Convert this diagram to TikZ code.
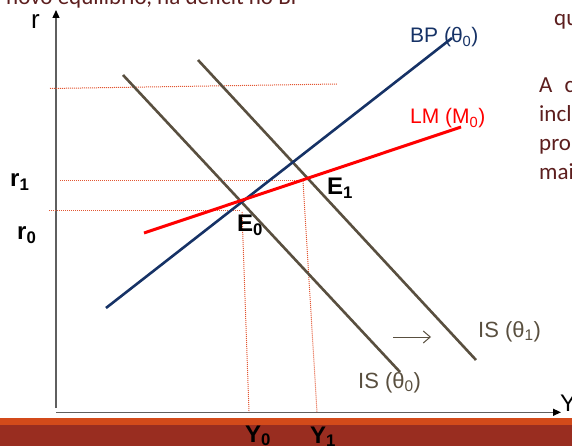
\documentclass[tikz,border=0pt]{standalone}
\usepackage{fontspec}
\setmainfont{Liberation Sans}
\newfontfamily\slidefont{Carlito}
\usetikzlibrary{arrows.meta}

\definecolor{bpblue}{RGB}{22,50,102}
\definecolor{lmred}{RGB}{255,0,0}
\definecolor{isgray}{RGB}{89,79,63}
\definecolor{dotred}{RGB}{226,86,50}
\definecolor{axisgray}{RGB}{95,95,95}
\definecolor{slidetext}{RGB}{92,30,30}
\definecolor{bandorange}{RGB}{211,74,26}
\definecolor{banddark}{RGB}{153,45,32}

\begin{document}
\begin{tikzpicture}[x=1pt,y=-1pt,
		curve/.style={line width=2.6pt},
		guide/.style={dotred,line width=1pt,dash pattern=on 1pt off 1pt},
		lbl/.style={inner sep=0pt,anchor=base west,font=\fontsize{#1}{#1}\selectfont},
		blbl/.style={inner sep=0pt,anchor=base west,font=\fontsize{24}{24}\selectfont\bfseries},
		slide/.style={inner sep=0pt,anchor=base west,text=slidetext,font=\slidefont\fontsize{23}{28}\selectfont}]
				\useasboundingbox (0,0) rectangle (572,446);
				\clip (0,0) rectangle (572,446);
				% slide text cut by the crop
				\node[slide] (top) at (6,5) {novo equilíbrio, há déficit no BP};
				\node[slide] (t1) at (554,26) {qu};
				\node[slide] (t2) at (539,93) {A\hspace{7pt} c};
				\node[slide] (t3) at (539,122) {incl};
				\node[slide] (t4) at (539,151) {pro};
				\node[slide] (t5) at (539,180) {mai};
				% band at the bottom
				\fill[bandorange] (0,417.7) rectangle (572,425);
				\fill[banddark] (0,425) rectangle (572,446);
				% axes
				\coordinate (ytop) at (56,10);
				\coordinate (ybot) at (56,408);
				\coordinate (O) at (56,412.3);
				\coordinate (xend) at (561,412.3);
				\draw[axisgray,line width=1.3pt,-{Triangle[length=8pt,width=7pt,color=black]}] (ybot) to (ytop);
				\draw[axisgray,line width=1.3pt,-{Triangle[length=8pt,width=7pt,color=black]}] (O) to (xend);
				\node[lbl=26] (rlab) at (31,29) {r};
				\node[lbl=24] (Ylab) at (560,411) {Y};
				% dotted guides
				\coordinate (g0a) at (50,88.5);
				\coordinate (g0b) at (337,84);
				\coordinate (r1a) at (60,180.7);
				\coordinate (r1b) at (305,180.7);
				\coordinate (r0a) at (49,211);
				\coordinate (r0b) at (240,211);
				\coordinate (y0a) at (242,212);
				\coordinate (y0b) at (249,412);
				\coordinate (y1a) at (303,181);
				\coordinate (y1b) at (317,412);
				\draw[guide] (g0a) to (g0b);
				\draw[guide] (r1a) to (r1b);
				\draw[guide] (r0a) to (r0b);
				\draw[guide] (y0a) to (y0b);
				\draw[guide] (y1a) to (y1b);
				% curves
				\coordinate (is0a) at (123,75);
				\coordinate (is0b) at (400,372);
				\coordinate (is1a) at (198,60);
				\coordinate (is1b) at (476,360);
				\coordinate (bpa) at (106,308);
				\coordinate (bpb) at (452,38);
				\coordinate (lma) at (144,233);
				\coordinate (lmb) at (461,127);
				\draw[curve,isgray] (is0a) to (is0b);
				\draw[curve,isgray] (is1a) to (is1b);
				\draw[curve,bpblue] (bpa) to (bpb);
				\draw[curve,lmred,line width=3pt] (lma) to (lmb);
				% shift of IS
				\coordinate (sha) at (393,337);
				\coordinate (shb) at (431,337);
				\draw[isgray,line width=1pt,-{Straight Barb[length=7pt,width=12pt]}] (sha) to (shb);
				% labels
				\node[lbl=21,text=bpblue] (bplab) at (410,43) {BP (θ\textsubscript{0})};
				\node[lbl=21,text=lmred] (lmlab) at (410,124) {LM (M\textsubscript{0})};
				\node[lbl=22,text=isgray] (is1lab) at (478,337) {IS (θ\textsubscript{1})};
				\node[lbl=22,text=isgray] (is0lab) at (358,388) {IS (θ\textsubscript{0})};
				\node[blbl] (e0) at (237,232) {E\textsubscript{0}};
				\node[blbl] (e1) at (327,195) {E\textsubscript{1}};
				\node[blbl] (r1lab) at (10,187) {r\textsubscript{1}};
				\node[blbl] (r0lab) at (17,240) {r\textsubscript{0}};
				\node[blbl] (y0lab) at (245,442) {Y\textsubscript{0}};
				\node[blbl] (y1lab) at (310,443) {Y\textsubscript{1}};
			\end{tikzpicture}
\end{document}
